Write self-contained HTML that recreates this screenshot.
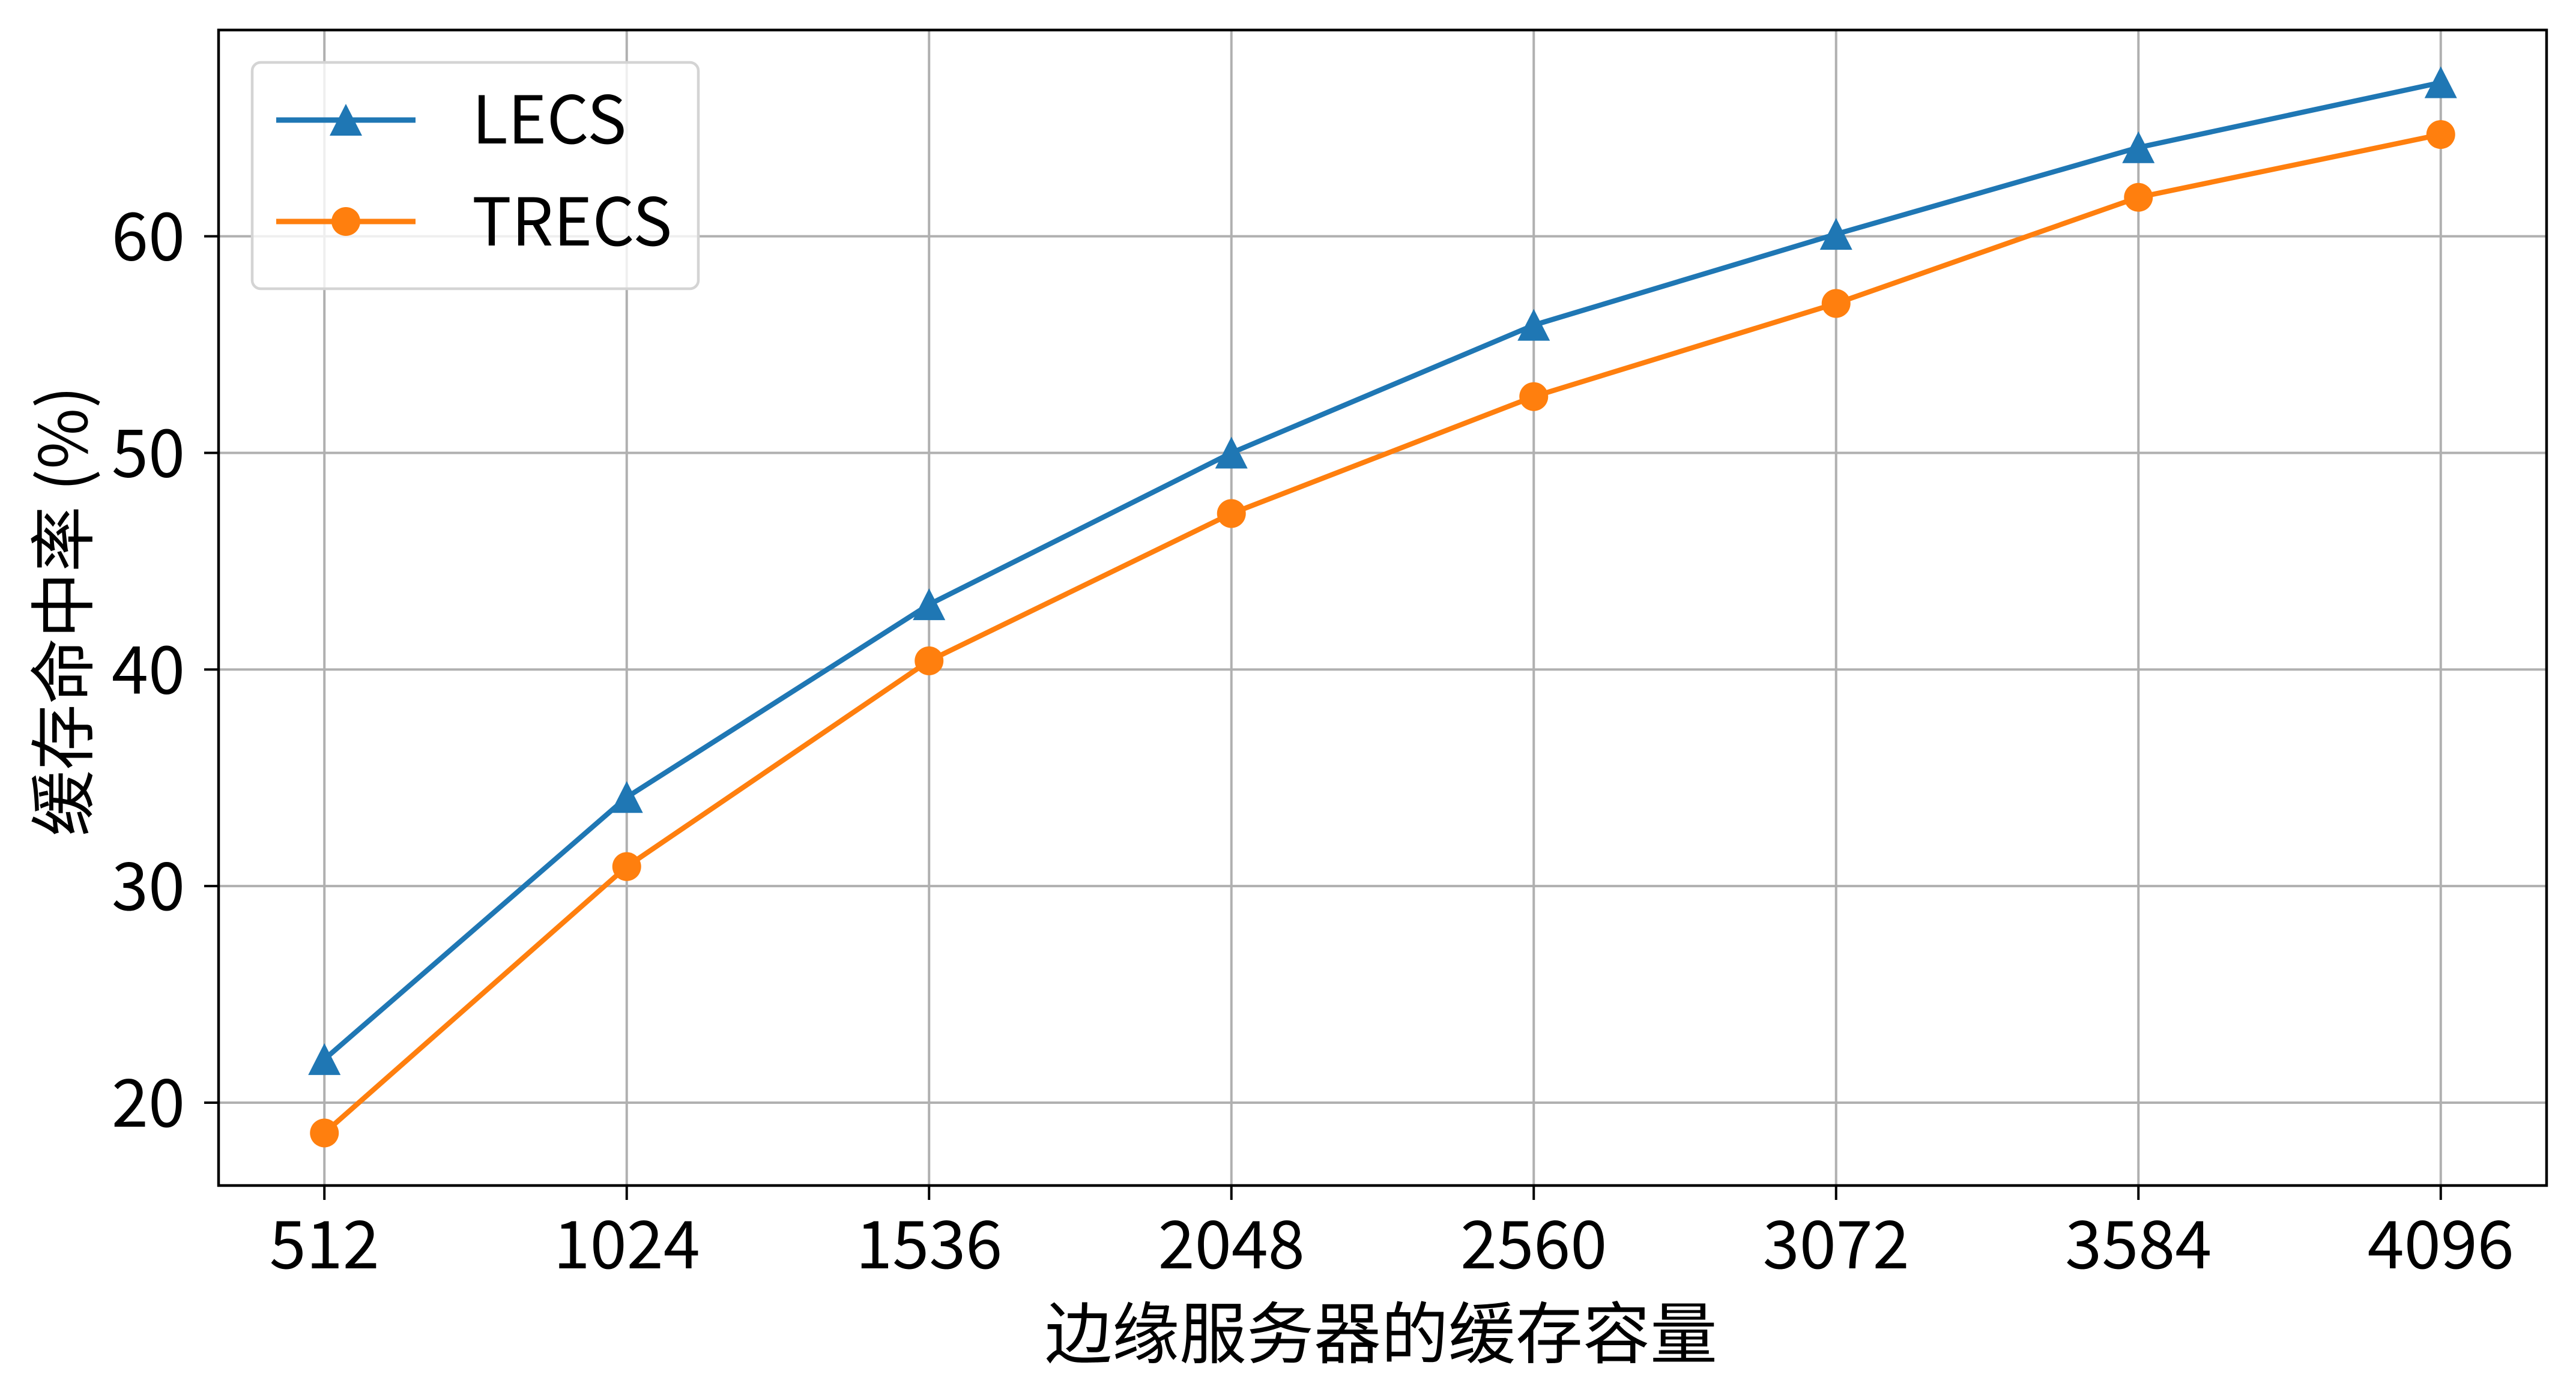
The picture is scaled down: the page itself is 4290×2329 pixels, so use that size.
<!DOCTYPE html>
<html><head><meta charset="utf-8">
<style>
html,body{margin:0;padding:0;background:#fff;}
svg{display:block;}
text{font-family:"Liberation Sans","Noto Sans CJK SC",sans-serif;fill:#000;}
.cjk{font-family:"Noto Sans CJK SC","Liberation Sans",sans-serif;}
</style></head>
<body>
<svg id="chart" width="4290" height="2329" viewBox="0 0 4290 2329" xmlns="http://www.w3.org/2000/svg">
<rect x="0" y="0" width="4290" height="2329" fill="#fff"/>
<g id="grid"></g>
<g id="ticks"></g>
<g id="series"></g>
<rect x="364" y="50" width="3877" height="1925" fill="none" stroke="#000" stroke-width="4.5"/>
<text class="cjk" x="2300" y="2262" font-size="112" text-anchor="middle">边缘服务器的缓存容量</text>
<text class="cjk" transform="translate(97,1018) rotate(-90)" font-size="110" text-anchor="middle" dominant-baseline="central">缓存命中率 (%)</text>
<g>
<rect x="420" y="104" width="743" height="377" rx="14" fill="#fff" fill-opacity="0.8" stroke="#d4d4d4" stroke-width="4.5"/>
<g>
<line x1="460" y1="200" x2="692" y2="200" stroke="#1f77b4" stroke-width="9"/>
<polygon points="576,173 603,226 549,226" fill="#1f77b4"/>
<text class="cjk" x="786" y="239" font-size="110">LECS</text>
</g>
<g>
<line x1="460" y1="369" x2="692" y2="369" stroke="#ff7f0e" stroke-width="9"/>
<circle cx="576" cy="369" r="24" fill="#ff7f0e"/>
<text class="cjk" x="786" y="409" font-size="110">TRECS</text>
</g>
</g>
</svg>
<script>
const categories = [512, 1024, 1536, 2048, 2560, 3072, 3584, 4096];
const lecsValues = [22.0, 34.1, 43.0, 50.0, 55.9, 60.1, 64.1, 67.1];
const trecsValues = [18.6, 30.9, 40.4, 47.2, 52.6, 56.9, 61.8, 64.7];
const yTicks = [20, 30, 40, 50, 60];

const NS = "http://www.w3.org/2000/svg";
const L = 364, R = 4241, T = 50, B = 1975;
const xMin = 332.8, xMax = 4275.2, yMin = 16.175, yMax = 69.525;
function xs(v){ return L + (v - xMin) / (xMax - xMin) * (R - L); }
function ys(v){ return B - (v - yMin) / (yMax - yMin) * (B - T); }
function mk(tag, attrs, parent){ const e = document.createElementNS(NS, tag); for (const k in attrs) e.setAttribute(k, attrs[k]); parent.appendChild(e); return e; }

const grid = document.getElementById('grid');
const ticks = document.getElementById('ticks');
const series = document.getElementById('series');

categories.forEach(c => {
  const x = xs(c);
  const g = mk('line', {x1:x, y1:T, x2:x, y2:B, stroke:'#b0b0b0', 'stroke-width':4}, grid);
  
  
  const t = mk('line', {x1:x, y1:B, x2:x, y2:B+24, stroke:'#000', 'stroke-width':4}, ticks);
  
  
  const lb = mk('text', {x:x, y:2113, 'font-size':110, 'text-anchor':'middle', class:'cjk'}, ticks);
  lb.textContent = c;
  
  
});
yTicks.forEach(v => {
  const y = ys(v);
  const g = mk('line', {x1:L, y1:y, x2:R, y2:y, stroke:'#b0b0b0', 'stroke-width':4}, grid);
  
  
  const t = mk('line', {x1:L-24, y1:y, x2:L, y2:y, stroke:'#000', 'stroke-width':4}, ticks);
  
  
  const lb = mk('text', {x:308, y:y+40, 'font-size':110, 'text-anchor':'end', class:'cjk'}, ticks);
  lb.textContent = v;
  
  
});

function drawSeries(vals, color, marker, name){
  const pts = categories.map((c,i) => xs(c) + ',' + ys(vals[i])).join(' ');
  const pl = mk('polyline', {points:pts, fill:'none', stroke:color, 'stroke-width':8.5, 'stroke-linejoin':'round'}, series);
  
  
  categories.forEach((c,i) => {
    const x = xs(c), y = ys(vals[i]);
    let m;
    if (marker === 'tri') m = mk('polygon', {points:`${x},${y-27} ${x+27},${y+26} ${x-27},${y+26}`, fill:color}, series);
    else m = mk('circle', {cx:x, cy:y, r:24, fill:color}, series);
    
    
  });
}
drawSeries(lecsValues, '#1f77b4', 'tri', 'lecs');
drawSeries(trecsValues, '#ff7f0e', 'circle', 'trecs');
</script>
</body></html>
